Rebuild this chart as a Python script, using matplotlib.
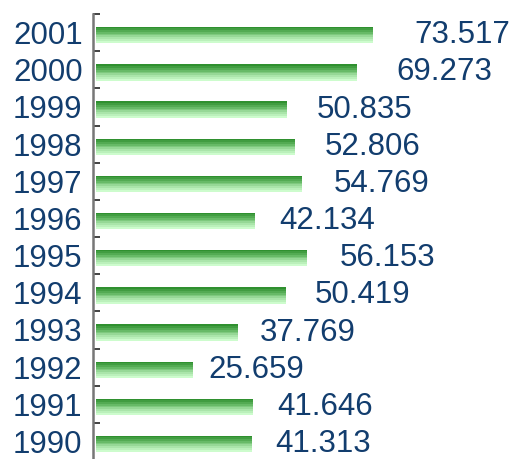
import matplotlib
matplotlib.use("Agg")
import matplotlib.pyplot as plt
import numpy as np
from matplotlib.colors import LinearSegmentedColormap

years = ["1990", "1991", "1992", "1993", "1994", "1995", "1996", "1997", "1998", "1999", "2000", "2001"]
values = [41.313, 41.646, 25.659, 37.769, 50.419, 56.153, 42.134, 54.769, 52.806, 50.835, 69.273, 73.517]
value_labels = ["41.313", "41.646", "25.659", "37.769", "50.419", "56.153", "42.134", "54.769", "52.806", "50.835", "69.273", "73.517"]

plt.rcParams['font.family'] = ['Liberation Sans', 'DejaVu Sans']
W, H = 512, 459
fig = plt.figure(figsize=(W / 100, H / 100), dpi=100)
top_px, bot_px, left_px = 14, 460, 93
ax = fig.add_axes([left_px / W, (H - bot_px) / H, (W - left_px) / W, (bot_px - top_px) / H])

text_color = "#123d6e"
pos = np.arange(len(years))
bar_h = 0.44
bars = ax.barh(pos - 0.07, values, height=bar_h, color="none", edgecolor="none", zorder=2)

cmap = LinearSegmentedColormap.from_list("g", ["#2f902f", "#5fb55f", "#9edd9e", "#cdfccd"])
nb = 9
grad = np.linspace(0, 1, nb).reshape(-1, 1)
for b in bars:
    x0, y0 = b.get_x(), b.get_y()
    w, h = b.get_width(), b.get_height()
    # row 0 (dark) drawn at the top of the bar
    im = ax.imshow(grad, cmap=cmap, aspect="auto", interpolation="nearest",
                   extent=(x0, x0 + w, y0, y0 + h), origin="upper", zorder=2)
    im.set_clip_path(b)

for p, v, lab in zip(pos, values, value_labels):
    ax.text(v * 1.15 + 0.3, p - 0.07, lab, va="center", ha="left",
            fontsize=22.5, color=text_color)

ax.set_xlim(-0.8, 110.8)
ax.set_ylim(-0.5, len(years) - 0.5)

ax.set_yticks(pos)
ax.set_yticklabels(years, fontsize=22.5, color=text_color)
ax.tick_params(axis="y", which="major", length=0, pad=7.5)
ax.set_yticks(np.arange(len(years) + 1) - 0.5, minor=True)
ax.tick_params(axis="y", which="minor", direction="in", length=5, width=1.2, color="#222222")
ax.set_xticks([])
for s in ["top", "right", "bottom"]:
    ax.spines[s].set_visible(False)
ax.spines["left"].set_color("#777777")
ax.spines["left"].set_linewidth(1.8)
ax.patch.set_alpha(0)

fig.savefig("out.png", dpi=100)
